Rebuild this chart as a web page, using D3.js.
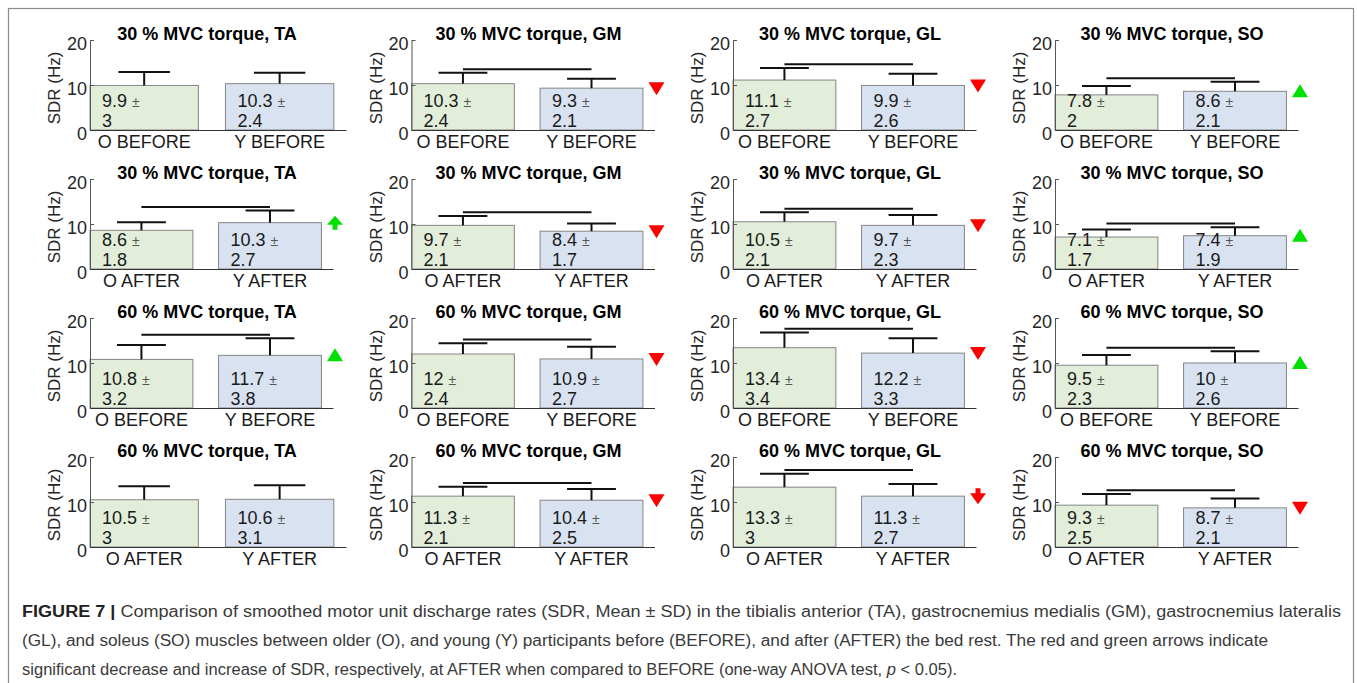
<!DOCTYPE html>
<html>
<head>
<meta charset="utf-8">
<script src="https://cdn.jsdelivr.net/npm/d3@7"></script>
<style>
  body { margin: 0; background: #fff; }
  svg { display: block; }
</style>
</head>
<body>
<svg id="fig" width="1357" height="683"></svg>
<script>
// Smoothed discharge rates (Hz), mean and SD, per condition row and muscle column
const muscles = ["TA", "GM", "GL", "SO"];
const rowTorque = ["30 % MVC torque", "30 % MVC torque", "60 % MVC torque", "60 % MVC torque"];
const rowPhase = ["BEFORE", "AFTER", "BEFORE", "AFTER"];
const groups = ["O", "Y"];
const yTicks = [0, 10, 20];

const meanO = [[9.9, 10.3, 11.1, 7.8], [8.6, 9.7, 10.5, 7.1], [10.8, 12, 13.4, 9.5], [10.5, 11.3, 13.3, 9.3]];
const sdO   = [[3, 2.4, 2.7, 2],       [1.8, 2.1, 2.1, 1.7], [3.2, 2.4, 3.4, 2.3], [3, 2.1, 3, 2.5]];
const meanY = [[10.3, 9.3, 9.9, 8.6],  [10.3, 8.4, 9.7, 7.4], [11.7, 10.9, 12.2, 10], [10.6, 10.4, 11.3, 8.7]];
const sdY   = [[2.4, 2.1, 2.6, 2.1],   [2.7, 1.7, 2.3, 1.9], [3.8, 2.7, 3.3, 2.6], [3.1, 2.5, 2.7, 2.1]];

// O vs Y significance bracket and change relative to BEFORE
const significant = [[0, 1, 1, 1], [1, 1, 1, 1], [1, 1, 1, 1], [0, 1, 1, 1]];
const change = [["", "down", "down", "up"], ["upStem", "down", "down", "up"],
                ["up", "down", "down", "up"], ["", "down", "downStem", "down"]];

const captionLines = [
  [{ t: "FIGURE 7 | ", b: true }, { t: "Comparison of smoothed motor unit discharge rates (SDR, Mean \u00b1 SD) in the tibialis anterior (TA), gastrocnemius medialis (GM), gastrocnemius lateralis" }],
  [{ t: "(GL), and soleus (SO) muscles between older (O), and young (Y) participants before (BEFORE), and after (AFTER) the bed rest. The red and green arrows indicate" }],
  [{ t: "significant decrease and increase of SDR, respectively, at AFTER when compared to BEFORE (one-way ANOVA test, " }, { t: "p", i: true }, { t: " < 0.05)." }]
];

const svg = d3.select("#fig");
const FONT = "'Liberation Sans', Arial, Helvetica, sans-serif";

// outer frame
svg.append("rect")
  .attr("x", 8.5).attr("y", 8.5).attr("width", 1345).attr("height", 700)
  .attr("fill", "none").attr("stroke", "#8a8a8a").attr("stroke-width", 1.2);

const colX = [90, 411.5, 733, 1055];
const rowBase = [130, 269, 408, 547];
const fills = { O: "#e2eed9", Y: "#d9e2f1" };

function drawPanel(r, c) {
  const hasMarker = change[r][c] !== "";
  const W = hasMarker ? 243 : 256;
  const g = svg.append("g").attr("transform", `translate(${colX[c]},${rowBase[r] - 90})`);
  const x = d3.scaleLinear().domain([0.6, 2.49]).range([0, W]);
  const y = d3.scaleLinear().domain([0, 20]).range([90, 0]);

  const data = groups.map((gname, i) => ({
    g: gname, pos: i + 1,
    mean: gname === "O" ? meanO[r][c] : meanY[r][c],
    sd: gname === "O" ? sdO[r][c] : sdY[r][c]
  }));
  const bw = x(0.8) - x(0);

  // bars
  g.selectAll("rect.bar").data(data).join("rect")
    .attr("class", "bar")
    .attr("x", d => x(d.pos) - bw / 2).attr("width", bw)
    .attr("y", d => y(d.mean)).attr("height", d => y(0) - y(d.mean))
    .attr("fill", d => fills[d.g]).attr("stroke", "#858585").attr("stroke-width", 1);

  // y axis with inward ticks
  const ya = g.append("g").call(d3.axisLeft(y).tickValues(yTicks).tickSizeInner(-4).tickSizeOuter(0).tickPadding(3));
  ya.select(".domain").attr("stroke", "#555").attr("stroke-width", 1);
  ya.selectAll(".tick line").attr("stroke", "#555");
  ya.selectAll(".tick text").attr("font-family", FONT).attr("font-size", 18)
    .attr("fill", "#262626").attr("transform", "translate(0,4)");

  // x baseline
  const xa = g.append("g").attr("transform", `translate(0,${y(0)})`)
    .call(d3.axisBottom(x).tickValues([]).tickSizeOuter(0));
  xa.select(".domain").attr("stroke", "#333").attr("stroke-width", 1.2);

  // category labels
  g.selectAll("text.cat").data(data).join("text")
    .attr("class", "cat")
    .attr("x", d => x(d.pos)).attr("y", y(0) + 18)
    .attr("text-anchor", "middle").attr("font-family", FONT).attr("font-size", 18)
    .attr("fill", "#1a1a1a")
    .text(d => `${d.g} ${rowPhase[r]}`);

  // error bars (upper half)
  const capHalf = x(0.19) - x(0);
  const eb = g.selectAll("g.eb").data(data).join("g").attr("class", "eb")
    .attr("stroke", "#111").attr("stroke-width", 2);
  eb.append("line").attr("x1", d => x(d.pos)).attr("x2", d => x(d.pos))
    .attr("y1", d => y(d.mean)).attr("y2", d => y(d.mean + d.sd));
  eb.append("line").attr("x1", d => x(d.pos) - capHalf).attr("x2", d => x(d.pos) + capHalf)
    .attr("y1", d => y(d.mean + d.sd)).attr("y2", d => y(d.mean + d.sd));

  // significance bracket between groups
  if (significant[r][c]) {
    const top = d3.max(data, d => d.mean + d.sd) + 0.8;
    g.append("line")
      .attr("x1", x(1)).attr("x2", x(2)).attr("y1", y(top)).attr("y2", y(top))
      .attr("stroke", "#111").attr("stroke-width", 2);
  }

  // value labels inside bars (two lines: mean ±, then SD)
  const lx = d => x(d.pos) - bw / 2 + 12;
  const top = g.selectAll("text.val").data(data).join("text")
    .attr("class", "val")
    .attr("x", lx).attr("y", y(0) - 23)
    .attr("font-family", FONT).attr("font-size", 18).attr("fill", "#1a1a1a");
  top.append("tspan").text(d => d.mean + " ");
  top.append("tspan").attr("font-size", 14).attr("fill", "#555").text("\u00b1");
  g.selectAll("text.sd").data(data).join("text")
    .attr("class", "sd")
    .attr("x", lx).attr("y", y(0) - 3)
    .attr("font-family", FONT).attr("font-size", 18).attr("fill", "#1a1a1a")
    .text(d => d.sd);

  // change marker for Y group
  if (hasMarker) {
    const kind = change[r][c];
    const mx = x(2.49) + 2, my = y(meanY[r][c]);
    const color = kind.startsWith("down") ? "#ff0000" : "#00e000";
    let path;
    if (kind === "down") path = `M${mx - 8},${my - 6} L${mx + 8},${my - 6} L${mx},${my + 7} Z`;
    else if (kind === "up") path = `M${mx - 8},${my + 6} L${mx + 8},${my + 6} L${mx},${my - 7} Z`;
    else if (kind === "downStem") path = `M${mx - 2.5},${my - 8} L${mx + 2.5},${my - 8} L${mx + 2.5},${my - 3} L${mx + 8},${my - 3} L${mx},${my + 8} L${mx - 8},${my - 3} L${mx - 2.5},${my - 3} Z`;
    else path = `M${mx - 2.5},${my + 7} L${mx + 2.5},${my + 7} L${mx + 2.5},${my + 2} L${mx + 8},${my + 2} L${mx},${my - 7} L${mx - 8},${my + 2} L${mx - 2.5},${my + 2} Z`;
    g.append("path").attr("d", path).attr("fill", color);
  }

  // y label
  g.append("text")
    .attr("transform", `translate(-34,${y(10) + 3}) rotate(-90)`)
    .attr("text-anchor", "middle").attr("dominant-baseline", "middle")
    .attr("font-family", FONT).attr("font-size", 17).attr("fill", "#262626")
    .text("SDR (Hz)");

  // title
  g.append("text")
    .attr("x", 117).attr("y", 0)
    .attr("text-anchor", "middle").attr("font-family", FONT)
    .attr("font-size", 18).attr("font-weight", "bold").attr("fill", "#000")
    .text(`${rowTorque[r]}, ${muscles[c]}`);
}

for (let r = 0; r < 4; r++) for (let c = 0; c < 4; c++) drawPanel(r, c);

// caption
const capEnds = [1341, 1268, 957];
captionLines.forEach((parts, i) => {
  const t = svg.append("text")
    .attr("x", 22).attr("y", 617 + i * 29)
    .attr("font-family", FONT).attr("font-size", 16).attr("fill", "#3a3a3a")
    .attr("textLength", capEnds[i] - 22).attr("lengthAdjust", "spacingAndGlyphs");
  parts.forEach(p => {
    const s = t.append("tspan").text(p.t);
    if (p.b) s.attr("font-weight", "bold").attr("fill", "#222");
    if (p.i) s.attr("font-style", "italic");
  });
});
</script>
</body>
</html>
